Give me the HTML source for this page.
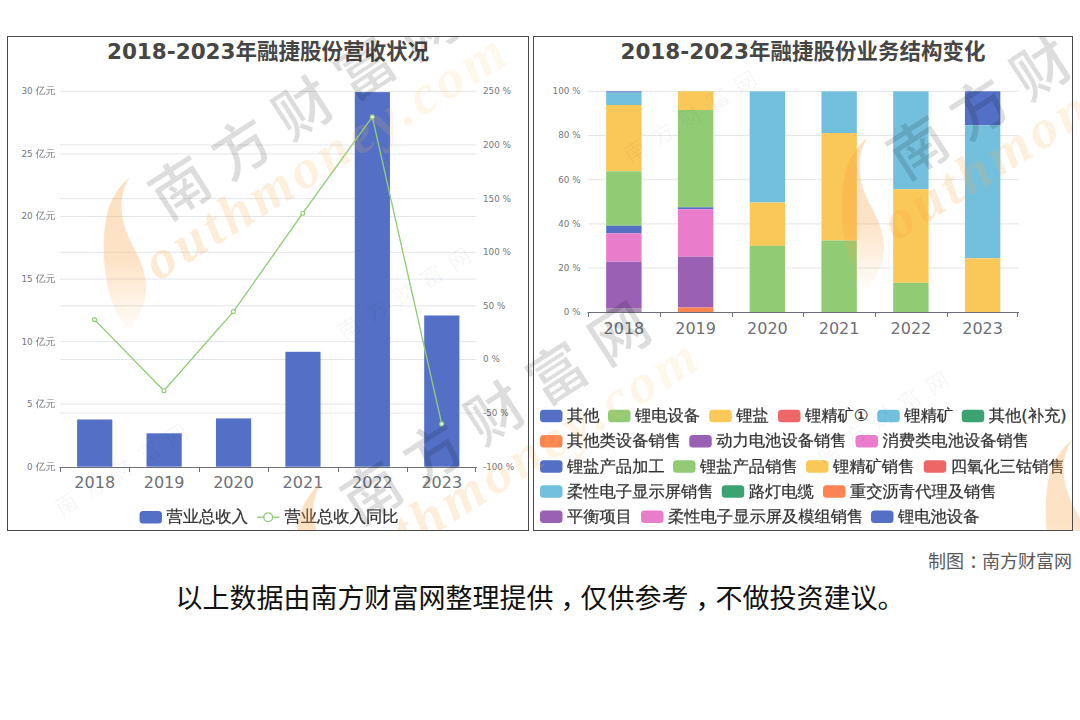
<!DOCTYPE html>
<html lang="zh-CN"><head><meta charset="utf-8"><title>融捷股份</title>
<style>
html,body{margin:0;padding:0;background:#fff;}
body{width:1080px;height:720px;overflow:hidden;position:relative;}
svg{position:absolute;left:0;top:0;display:block;}
text{font-family:"DejaVu Sans","Liberation Sans","WenQuanYi Zen Hei","Noto Sans CJK SC",sans-serif;}
.t{font-family:"DejaVu Sans","Liberation Sans","Noto Sans CJK SC",sans-serif;font-weight:bold;font-size:21.5px;fill:#464646;text-anchor:middle;}
.yl{font-size:8.8px;fill:#75777d;}
.xl{font-size:16px;fill:#6e7079;text-anchor:middle;}
.lg{font-size:16.3px;fill:#333;stroke:#333;stroke-width:.25px;}
.ft{font-family:"Liberation Sans","Noto Sans CJK SC",sans-serif;}
</style></head><body>
<svg width="1080" height="720" viewBox="0 0 1080 720">
<rect x="0" y="0" width="1080" height="720" fill="#fff"/>
<g id="left">
<text class="t" x="268" y="58.5">2018-2023年融捷股份营收状况</text>
<line x1="60.0" x2="476.5" y1="404.15" y2="404.15" stroke="#e2e5ea" stroke-width="1"/>
<line x1="60.0" x2="476.5" y1="341.60" y2="341.60" stroke="#e2e5ea" stroke-width="1"/>
<line x1="60.0" x2="476.5" y1="279.05" y2="279.05" stroke="#e2e5ea" stroke-width="1"/>
<line x1="60.0" x2="476.5" y1="216.50" y2="216.50" stroke="#e2e5ea" stroke-width="1"/>
<line x1="60.0" x2="476.5" y1="153.95" y2="153.95" stroke="#e2e5ea" stroke-width="1"/>
<line x1="60.0" x2="476.5" y1="91.40" y2="91.40" stroke="#e2e5ea" stroke-width="1"/>
<line x1="60.0" x2="476.5" y1="413.09" y2="413.09" stroke="#e2e5ea" stroke-width="1"/>
<line x1="60.0" x2="476.5" y1="359.47" y2="359.47" stroke="#e2e5ea" stroke-width="1"/>
<line x1="60.0" x2="476.5" y1="305.86" y2="305.86" stroke="#e2e5ea" stroke-width="1"/>
<line x1="60.0" x2="476.5" y1="252.24" y2="252.24" stroke="#e2e5ea" stroke-width="1"/>
<line x1="60.0" x2="476.5" y1="198.63" y2="198.63" stroke="#e2e5ea" stroke-width="1"/>
<line x1="60.0" x2="476.5" y1="145.01" y2="145.01" stroke="#e2e5ea" stroke-width="1"/>
<text class="yl" x="55.5" y="469.60" text-anchor="end">0 <tspan font-size="10">亿元</tspan></text>
<text class="yl" x="55.5" y="407.05" text-anchor="end">5 <tspan font-size="10">亿元</tspan></text>
<text class="yl" x="55.5" y="344.50" text-anchor="end">10 <tspan font-size="10">亿元</tspan></text>
<text class="yl" x="55.5" y="281.95" text-anchor="end">15 <tspan font-size="10">亿元</tspan></text>
<text class="yl" x="55.5" y="219.40" text-anchor="end">20 <tspan font-size="10">亿元</tspan></text>
<text class="yl" x="55.5" y="156.85" text-anchor="end">25 <tspan font-size="10">亿元</tspan></text>
<text class="yl" x="55.5" y="94.30" text-anchor="end">30 <tspan font-size="10">亿元</tspan></text>
<text class="yl" x="483" y="469.60">-100 %</text>
<text class="yl" x="483" y="415.99">-50 %</text>
<text class="yl" x="483" y="362.37">0 %</text>
<text class="yl" x="483" y="308.76">50 %</text>
<text class="yl" x="483" y="255.14">100 %</text>
<text class="yl" x="483" y="201.53">150 %</text>
<text class="yl" x="483" y="147.91">200 %</text>
<text class="yl" x="483" y="94.30">250 %</text>
<rect x="77.11" y="419.5" width="35.2" height="47.20" fill="#5470c6"/>
<rect x="146.53" y="433.3" width="35.2" height="33.40" fill="#5470c6"/>
<rect x="215.94" y="418.4" width="35.2" height="48.30" fill="#5470c6"/>
<rect x="285.36" y="351.8" width="35.2" height="114.90" fill="#5470c6"/>
<rect x="354.77" y="92.1" width="35.2" height="374.60" fill="#5470c6"/>
<rect x="424.19" y="315.5" width="35.2" height="151.20" fill="#5470c6"/>
<line x1="59.5" x2="477.0" y1="467.5" y2="467.5" stroke="#6e7079" stroke-width="1"/>
<line x1="60.50" x2="60.50" y1="467.5" y2="472.0" stroke="#6e7079" stroke-width="1"/>
<line x1="129.50" x2="129.50" y1="467.5" y2="472.0" stroke="#6e7079" stroke-width="1"/>
<line x1="199.50" x2="199.50" y1="467.5" y2="472.0" stroke="#6e7079" stroke-width="1"/>
<line x1="268.50" x2="268.50" y1="467.5" y2="472.0" stroke="#6e7079" stroke-width="1"/>
<line x1="338.50" x2="338.50" y1="467.5" y2="472.0" stroke="#6e7079" stroke-width="1"/>
<line x1="407.50" x2="407.50" y1="467.5" y2="472.0" stroke="#6e7079" stroke-width="1"/>
<line x1="475.50" x2="475.50" y1="467.5" y2="472.0" stroke="#6e7079" stroke-width="1"/>
<text class="xl" x="94.71" y="488">2018</text>
<text class="xl" x="164.12" y="488">2019</text>
<text class="xl" x="233.54" y="488">2020</text>
<text class="xl" x="302.96" y="488">2021</text>
<text class="xl" x="372.38" y="488">2022</text>
<text class="xl" x="441.79" y="488">2023</text>
<polyline fill="none" stroke="#91cc75" stroke-width="1.35" points="94.5,319.6 163.9,390.7 233.4,311.6 302.8,213.2 372.3,116.9 441.7,423.9"/>
<circle cx="94.5" cy="319.6" r="2" fill="#fff" stroke="#91cc75" stroke-width="1.1"/>
<circle cx="163.9" cy="390.7" r="2" fill="#fff" stroke="#91cc75" stroke-width="1.1"/>
<circle cx="233.4" cy="311.6" r="2" fill="#fff" stroke="#91cc75" stroke-width="1.1"/>
<circle cx="302.8" cy="213.2" r="2" fill="#fff" stroke="#91cc75" stroke-width="1.1"/>
<circle cx="372.3" cy="116.9" r="2" fill="#fff" stroke="#91cc75" stroke-width="1.1"/>
<circle cx="441.7" cy="423.9" r="2" fill="#fff" stroke="#91cc75" stroke-width="1.1"/>
<rect x="139.5" y="511" width="22.5" height="12.5" rx="3.5" fill="#5470c6"/>
<text class="lg" x="166.5" y="522.3">营业总收入</text>
<line x1="257" x2="279.5" y1="517.2" y2="517.2" stroke="#91cc75" stroke-width="1.35"/>
<circle cx="268.2" cy="517.2" r="4.4" fill="#fff" stroke="#91cc75" stroke-width="1.35"/>
<text class="lg" x="284.5" y="522.3">营业总收入同比</text>
</g>
<g id="right">
<text class="t" x="803" y="58.5">2018-2023年融捷股份业务结构变化</text>
<line x1="588.0" x2="1018.5" y1="268.04" y2="268.04" stroke="#e2e5ea" stroke-width="1"/>
<line x1="588.0" x2="1018.5" y1="223.88" y2="223.88" stroke="#e2e5ea" stroke-width="1"/>
<line x1="588.0" x2="1018.5" y1="179.72" y2="179.72" stroke="#e2e5ea" stroke-width="1"/>
<line x1="588.0" x2="1018.5" y1="135.56" y2="135.56" stroke="#e2e5ea" stroke-width="1"/>
<line x1="588.0" x2="1018.5" y1="91.40" y2="91.40" stroke="#e2e5ea" stroke-width="1"/>
<text class="yl" x="580.5" y="315.10" text-anchor="end">0 %</text>
<text class="yl" x="580.5" y="270.94" text-anchor="end">20 %</text>
<text class="yl" x="580.5" y="226.78" text-anchor="end">40 %</text>
<text class="yl" x="580.5" y="182.62" text-anchor="end">60 %</text>
<text class="yl" x="580.5" y="138.46" text-anchor="end">80 %</text>
<text class="yl" x="580.5" y="94.30" text-anchor="end">100 %</text>
<rect x="606.17" y="91.3" width="35.4" height="1.30" fill="#5470c6"/>
<rect x="606.17" y="92.6" width="35.4" height="12.40" fill="#73c0de"/>
<rect x="606.17" y="105.0" width="35.4" height="66.30" fill="#fac858"/>
<rect x="606.17" y="171.3" width="35.4" height="54.50" fill="#91cc75"/>
<rect x="606.17" y="225.8" width="35.4" height="7.50" fill="#5470c6"/>
<rect x="606.17" y="233.3" width="35.4" height="28.40" fill="#ea7ccc"/>
<rect x="606.17" y="261.7" width="35.4" height="46.90" fill="#9a60b4"/>
<rect x="606.17" y="308.6" width="35.4" height="3.60" fill="#a98fb5"/>
<rect x="677.92" y="91.3" width="35.4" height="18.70" fill="#fac858"/>
<rect x="677.92" y="110.0" width="35.4" height="97.30" fill="#91cc75"/>
<rect x="677.92" y="207.3" width="35.4" height="1.90" fill="#5470c6"/>
<rect x="677.92" y="209.2" width="35.4" height="47.50" fill="#ea7ccc"/>
<rect x="677.92" y="256.7" width="35.4" height="50.80" fill="#9a60b4"/>
<rect x="677.92" y="307.5" width="35.4" height="4.70" fill="#fc8452"/>
<rect x="749.67" y="91.3" width="35.4" height="111.20" fill="#73c0de"/>
<rect x="749.67" y="202.5" width="35.4" height="43.30" fill="#fac858"/>
<rect x="749.67" y="245.8" width="35.4" height="66.40" fill="#91cc75"/>
<rect x="821.42" y="91.3" width="35.4" height="41.70" fill="#73c0de"/>
<rect x="821.42" y="133.0" width="35.4" height="107.50" fill="#fac858"/>
<rect x="821.42" y="240.5" width="35.4" height="71.70" fill="#91cc75"/>
<rect x="893.17" y="91.3" width="35.4" height="97.90" fill="#73c0de"/>
<rect x="893.17" y="189.2" width="35.4" height="93.60" fill="#fac858"/>
<rect x="893.17" y="282.8" width="35.4" height="29.40" fill="#91cc75"/>
<rect x="964.92" y="91.3" width="35.4" height="34.00" fill="#5470c6"/>
<rect x="964.92" y="125.3" width="35.4" height="133.00" fill="#73c0de"/>
<rect x="964.92" y="258.3" width="35.4" height="53.90" fill="#fac858"/>
<line x1="587.5" x2="1019.0" y1="312.5" y2="312.5" stroke="#6e7079" stroke-width="1"/>
<line x1="588.50" x2="588.50" y1="312.5" y2="317.0" stroke="#6e7079" stroke-width="1"/>
<line x1="660.50" x2="660.50" y1="312.5" y2="317.0" stroke="#6e7079" stroke-width="1"/>
<line x1="732.50" x2="732.50" y1="312.5" y2="317.0" stroke="#6e7079" stroke-width="1"/>
<line x1="803.50" x2="803.50" y1="312.5" y2="317.0" stroke="#6e7079" stroke-width="1"/>
<line x1="875.50" x2="875.50" y1="312.5" y2="317.0" stroke="#6e7079" stroke-width="1"/>
<line x1="947.50" x2="947.50" y1="312.5" y2="317.0" stroke="#6e7079" stroke-width="1"/>
<line x1="1017.50" x2="1017.50" y1="312.5" y2="317.0" stroke="#6e7079" stroke-width="1"/>
<text class="xl" x="623.88" y="334">2018</text>
<text class="xl" x="695.62" y="334">2019</text>
<text class="xl" x="767.38" y="334">2020</text>
<text class="xl" x="839.12" y="334">2021</text>
<text class="xl" x="910.88" y="334">2022</text>
<text class="xl" x="982.62" y="334">2023</text>
<rect x="540" y="409.80" width="22.5" height="12.5" rx="3.5" fill="#5470c6"/>
<text class="lg" x="567" y="421.10">其他</text>
<rect x="608" y="409.80" width="22.5" height="12.5" rx="3.5" fill="#91cc75"/>
<text class="lg" x="635" y="421.10">锂电设备</text>
<rect x="709.25" y="409.80" width="22.5" height="12.5" rx="3.5" fill="#fac858"/>
<text class="lg" x="736.25" y="421.10">锂盐</text>
<rect x="778" y="409.80" width="22.5" height="12.5" rx="3.5" fill="#ee6666"/>
<text class="lg" x="805" y="421.10">锂精矿①</text>
<rect x="877.25" y="409.80" width="22.5" height="12.5" rx="3.5" fill="#73c0de"/>
<text class="lg" x="904.25" y="421.10">锂精矿</text>
<rect x="961.75" y="409.80" width="22.5" height="12.5" rx="3.5" fill="#3ba272"/>
<text class="lg" x="988.75" y="421.10">其他(补充)</text>
<rect x="540" y="435.05" width="22.5" height="12.5" rx="3.5" fill="#fc8452"/>
<text class="lg" x="567" y="446.35">其他类设备销售</text>
<rect x="689.25" y="435.05" width="22.5" height="12.5" rx="3.5" fill="#9a60b4"/>
<text class="lg" x="716.25" y="446.35">动力电池设备销售</text>
<rect x="855.5" y="435.05" width="22.5" height="12.5" rx="3.5" fill="#ea7ccc"/>
<text class="lg" x="882.5" y="446.35">消费类电池设备销售</text>
<rect x="540" y="460.20" width="22.5" height="12.5" rx="3.5" fill="#5470c6"/>
<text class="lg" x="567" y="471.50">锂盐产品加工</text>
<rect x="673" y="460.20" width="22.5" height="12.5" rx="3.5" fill="#91cc75"/>
<text class="lg" x="700" y="471.50">锂盐产品销售</text>
<rect x="806" y="460.20" width="22.5" height="12.5" rx="3.5" fill="#fac858"/>
<text class="lg" x="833" y="471.50">锂精矿销售</text>
<rect x="923.75" y="460.20" width="22.5" height="12.5" rx="3.5" fill="#ee6666"/>
<text class="lg" x="950.75" y="471.50">四氧化三钴销售</text>
<rect x="540" y="485.30" width="22.5" height="12.5" rx="3.5" fill="#73c0de"/>
<text class="lg" x="567" y="496.60">柔性电子显示屏销售</text>
<rect x="721.75" y="485.30" width="22.5" height="12.5" rx="3.5" fill="#3ba272"/>
<text class="lg" x="748.75" y="496.60">路灯电缆</text>
<rect x="823" y="485.30" width="22.5" height="12.5" rx="3.5" fill="#fc8452"/>
<text class="lg" x="850" y="496.60">重交沥青代理及销售</text>
<rect x="540" y="510.55" width="22.5" height="12.5" rx="3.5" fill="#9a60b4"/>
<text class="lg" x="567" y="521.85">平衡项目</text>
<rect x="641" y="510.55" width="22.5" height="12.5" rx="3.5" fill="#ea7ccc"/>
<text class="lg" x="668" y="521.85">柔性电子显示屏及模组销售</text>
<rect x="871" y="510.55" width="22.5" height="12.5" rx="3.5" fill="#5470c6"/>
<text class="lg" x="898" y="521.85">锂电池设备</text>
</g>
<defs>
<linearGradient id="sg" x1="0" y1="0" x2="0" y2="1"><stop offset="0" stop-color="#f89a35" stop-opacity=".3"/><stop offset=".55" stop-color="#f8a040" stop-opacity=".3"/><stop offset="1" stop-color="#f8a848" stop-opacity=".04"/></linearGradient>
<linearGradient id="lg" gradientUnits="userSpaceOnUse" x1="-70" y1="0" x2="340" y2="0"><stop offset="0" stop-color="#f8a040" stop-opacity=".23"/><stop offset=".45" stop-color="#f8b050" stop-opacity=".18"/><stop offset="1" stop-color="#f8c860" stop-opacity=".12"/></linearGradient>
<g id="wmb">
<path d="M-50,-11 C-60,-3 -69,9 -73,26 C-77,44 -77,64 -75,82 C-73,100 -68,118 -58,134 C-56,137 -52,140 -49,140 C-42,130 -35,117 -34,103 C-33,90 -38,75 -46,60 C-54,45 -60,30 -58,10 C-57,2 -54,-5 -50,-11 Z" fill="url(#sg)"/>
<g transform="rotate(-32)">
<text transform="rotate(-0.8)" x="-29" y="21" font-size="58" font-weight="500" letter-spacing="15.5" fill="#000" fill-opacity=".135" style="font-family:'Liberation Sans','Noto Sans CJK SC',sans-serif">南方财富网</text>
<text x="-68" y="68" font-size="55" font-style="italic" font-weight="bold" textLength="414" lengthAdjust="spacing" fill="url(#lg)" style="font-family:'Liberation Serif','DejaVu Serif',serif">outhmoney.com</text>
</g></g>
<g id="wms" transform="rotate(-32)">
<text x="-11" y="8" font-size="22" letter-spacing="10.5" fill="#000" fill-opacity=".05" style="font-family:'Liberation Sans','Noto Sans CJK SC',sans-serif">南方财富网</text>
</g>
<clipPath id="wc"><rect x="0" y="36" width="1080" height="495"/></clipPath>
</defs>
<g clip-path="url(#wc)">
<use href="#wmb" x="180" y="188"/>
<use href="#wmb" x="918" y="148"/>
<use href="#wmb" x="372" y="493"/>
<use href="#wmb" x="1122" y="451"/>
<use href="#wms" x="635" y="151"/>
<use href="#wms" x="349" y="328"/>
<use href="#wms" x="66" y="504"/>
<use href="#wms" x="827" y="452"/>
</g>
<rect x="7.5" y="36.5" width="521" height="494" fill="none" stroke="#4a4a4a" stroke-width="1"/>
<rect x="533.5" y="36.5" width="539" height="494" fill="none" stroke="#4a4a4a" stroke-width="1"/>
<text class="ft" x="1072" y="567.5" font-size="18" fill="#5a5a5a" text-anchor="end">制图<tspan dx="5">：</tspan><tspan dx="-5">南</tspan>方财富网</text>
<text class="ft" x="540" y="608" font-size="27" fill="#111" text-anchor="middle">以上数据由南方财富网整理提供<tspan dx="7">，</tspan><tspan dx="-7">仅</tspan>供参考<tspan dx="7">，</tspan><tspan dx="-7">不</tspan>做投资建议。</text>
</svg>
</body></html>
